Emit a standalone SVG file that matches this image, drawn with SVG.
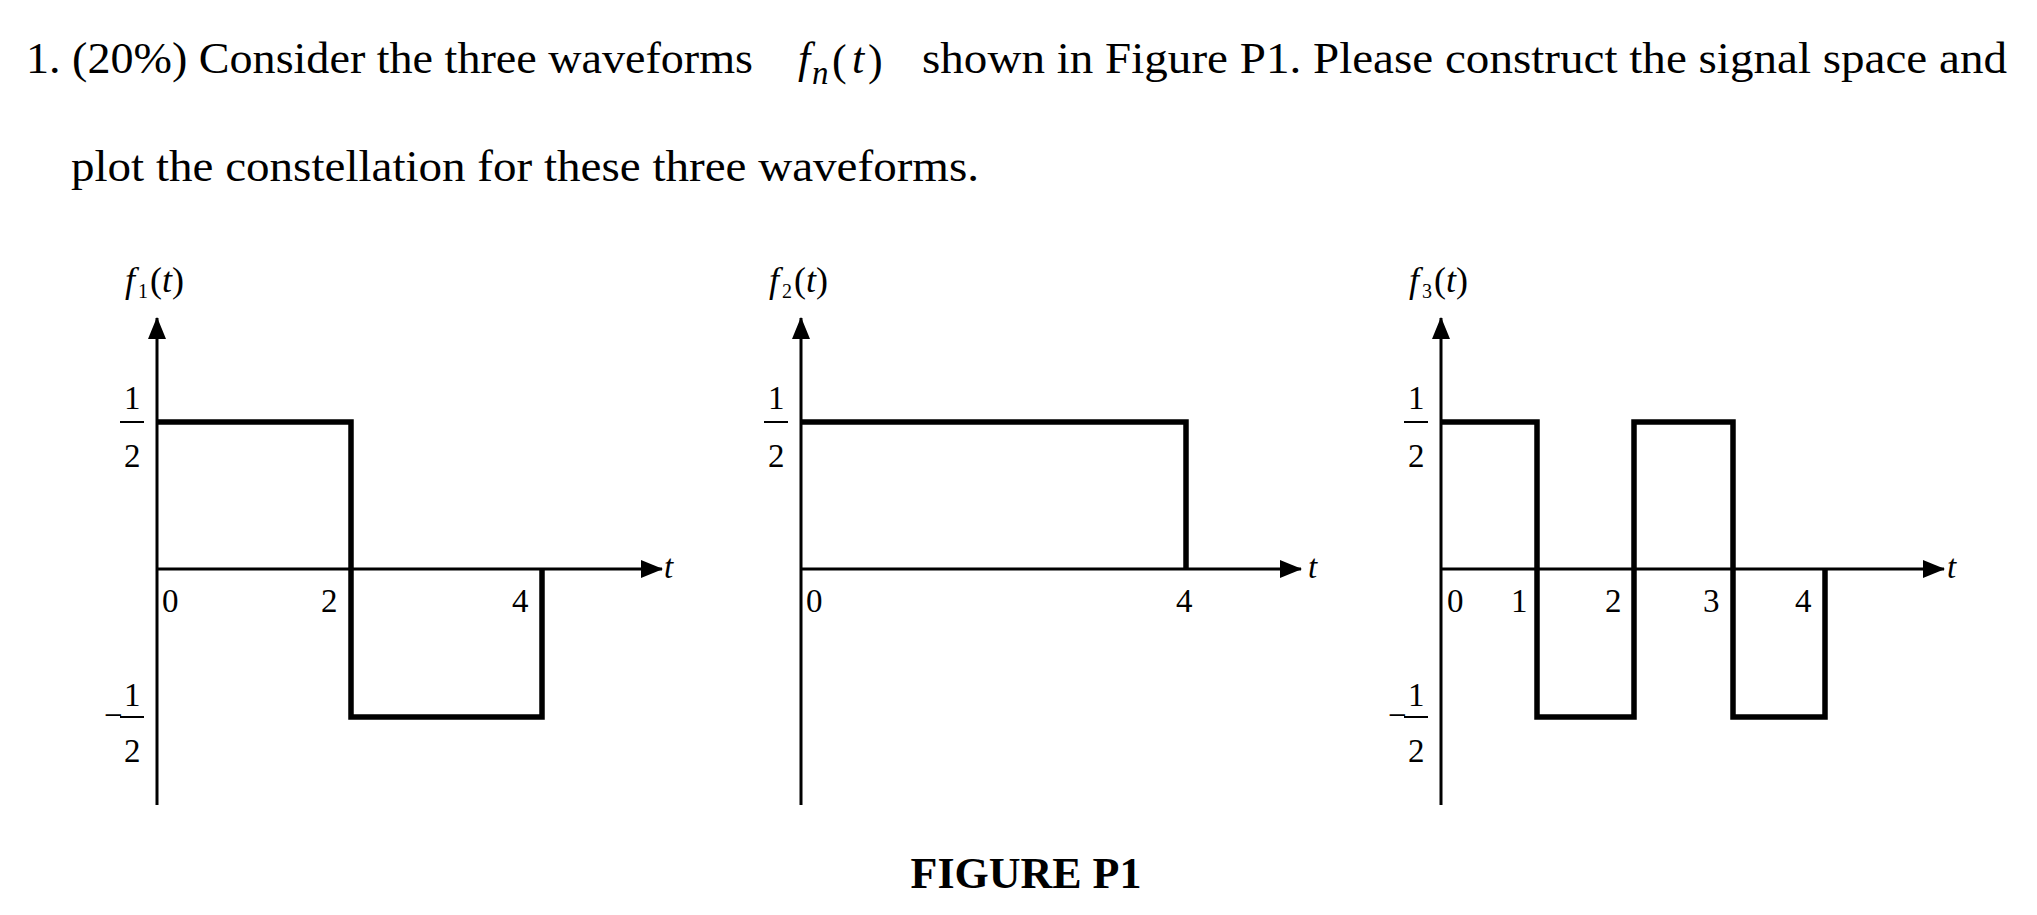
<svg xmlns="http://www.w3.org/2000/svg" width="2037" height="915" viewBox="0 0 2037 915">
<style>
text{font-family:"Liberation Serif","Times New Roman",serif;fill:#000}
.t{font-size:44px}
.n{font-size:33px}
.i{font-style:italic}
.ax{stroke:#000;stroke-width:3;fill:none}
.w{stroke:#000;stroke-width:5.5;fill:none;stroke-linejoin:miter}
.fl{stroke:#000;stroke-width:2}
.fs{font-size:36px}
.sb{font-size:20px}
</style>
<defs>
<marker id="ah" viewBox="0 0 22 18" markerWidth="22" markerHeight="18" refX="21" refY="9" orient="auto" markerUnits="userSpaceOnUse"><path d="M0,0L22,9L0,18z" fill="#000"/></marker>
</defs>
<g id="title">
<text class="t" x="26" y="73" textLength="727" lengthAdjust="spacingAndGlyphs">1. (20%) Consider the three waveforms</text>
<text class="t i" x="798" y="73">f</text><text class="n i" x="812" y="84" font-size="24">n</text>
<text class="t" x="832" y="75" font-size="52">(</text><text class="t i" x="852" y="73">t</text><text class="t" x="868" y="75" font-size="52">)</text>
<text class="t" x="922" y="73" textLength="1085" lengthAdjust="spacingAndGlyphs">shown in Figure P1. Please construct the signal space and</text>
<text class="t" x="71" y="181" textLength="908" lengthAdjust="spacingAndGlyphs">plot the constellation for these three waveforms.</text>
</g>
<g id="connectors">
<line class="ax" x1="157" y1="805" x2="157" y2="318" marker-end="url(#ah)"/>
<line class="ax" x1="157" y1="569" x2="662" y2="569" marker-end="url(#ah)"/>
<line class="ax" x1="801" y1="805" x2="801" y2="318" marker-end="url(#ah)"/>
<line class="ax" x1="801" y1="569" x2="1301" y2="569" marker-end="url(#ah)"/>
<line class="ax" x1="1441" y1="805" x2="1441" y2="318" marker-end="url(#ah)"/>
<line class="ax" x1="1441" y1="569" x2="1944" y2="569" marker-end="url(#ah)"/>
</g>
<g id="panel1">
<path class="w" d="M157,422H351V717H542V569"/>
<text class="fs i" x="125" y="292">f</text><text class="sb" x="138" y="298">1</text><text class="fs" x="150" y="292">(<tspan font-style="italic">t</tspan>)</text>
<text class="n" x="124" y="409">1</text><line class="fl" x1="120" y1="422" x2="144" y2="422"/><text class="n" x="124" y="467">2</text>
<text class="n" x="104" y="726">−</text>
<text class="n" x="124" y="706">1</text><line class="fl" x1="120" y1="717" x2="144" y2="717"/><text class="n" x="124" y="762">2</text>
<text class="n" x="162" y="612">0</text><text class="n" x="321" y="612">2</text><text class="n" x="512" y="612">4</text>
<text class="n i" x="664" y="578">t</text>
</g>
<g id="panel2">
<path class="w" d="M801,422H1186V569"/>
<text class="fs i" x="769" y="292">f</text><text class="sb" x="782" y="298">2</text><text class="fs" x="794" y="292">(<tspan font-style="italic">t</tspan>)</text>
<text class="n" x="768" y="409">1</text><line class="fl" x1="764" y1="422" x2="788" y2="422"/><text class="n" x="768" y="467">2</text>
<text class="n" x="806" y="612">0</text><text class="n" x="1176" y="612">4</text>
<text class="n i" x="1308" y="578">t</text>
</g>
<g id="panel3">
<path class="w" d="M1441,422H1537V717H1634V422H1733V717H1825V569"/>
<text class="fs i" x="1409" y="292">f</text><text class="sb" x="1422" y="298">3</text><text class="fs" x="1434" y="292">(<tspan font-style="italic">t</tspan>)</text>
<text class="n" x="1408" y="409">1</text><line class="fl" x1="1404" y1="422" x2="1428" y2="422"/><text class="n" x="1408" y="467">2</text>
<text class="n" x="1388" y="726">−</text>
<text class="n" x="1408" y="706">1</text><line class="fl" x1="1404" y1="717" x2="1428" y2="717"/><text class="n" x="1408" y="762">2</text>
<text class="n" x="1447" y="612">0</text><text class="n" x="1511" y="612">1</text><text class="n" x="1605" y="612">2</text><text class="n" x="1703" y="612">3</text><text class="n" x="1795" y="612">4</text>
<text class="n i" x="1947" y="578">t</text>
</g>
<text x="1026" y="888" text-anchor="middle" font-size="44" font-weight="bold">FIGURE P1</text>
</svg>
